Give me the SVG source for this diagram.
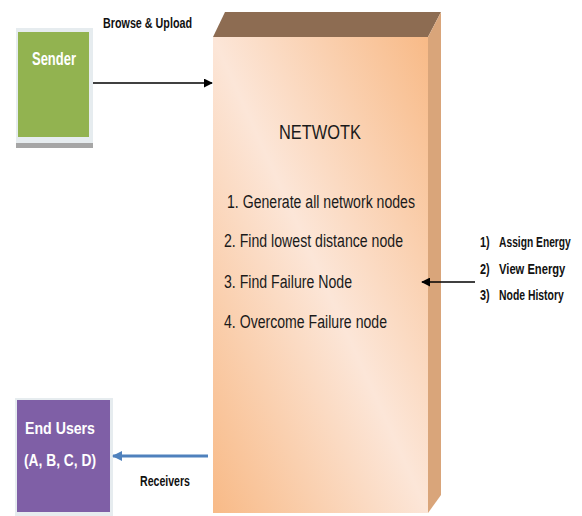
<svg xmlns="http://www.w3.org/2000/svg" width="582" height="516" viewBox="0 0 582 516">
<style>
.lbl{font-family:"Liberation Sans",Arial,sans-serif;font-weight:bold;font-size:14px;fill:#111}
.item{font-family:"Liberation Sans",Arial,sans-serif;font-size:18px;fill:#1a1a1a}
.wht{font-family:"Liberation Sans",Arial,sans-serif;font-weight:bold;fill:#fff}
</style>
<defs>
<linearGradient id="front" x1="1" y1="0" x2="0" y2="1">
<stop offset="0" stop-color="#F8BA87"/>
<stop offset="0.5" stop-color="#FCE6D8"/>
<stop offset="1" stop-color="#F8BA87"/>
</linearGradient>
<marker id="ahB" viewBox="0 0 10 10" refX="9" refY="5" markerWidth="9" markerHeight="9" markerUnits="userSpaceOnUse" orient="auto">
<path d="M0,0 L10,5 L0,10 z" fill="#000"/>
</marker>
<marker id="ahBl" viewBox="0 0 10 10" refX="9" refY="5" markerWidth="10" markerHeight="11" markerUnits="userSpaceOnUse" orient="auto">
<path d="M0,0 L10,5 L0,10 z" fill="#4F81BD"/>
</marker>
</defs>
<rect width="582" height="516" fill="#fff"/>
<g id="sender">
<rect x="16" y="28" width="77" height="120" fill="#A6A6A6"/>
<rect x="16" y="28" width="77" height="115" fill="#E6ECEF"/>
<rect x="18" y="32" width="71" height="105" fill="#92B350"/>
<text class="wht" x="54" y="65" font-size="18" text-anchor="middle" textLength="44" lengthAdjust="spacingAndGlyphs">Sender</text>
</g>
<g id="network">
<polygon points="213,37 225,12 441,12 428,37" fill="#8D6C52"/>
<polygon points="428,37 441,12 441,495 428,513" fill="#D9A57A"/>
<rect x="213" y="37" width="215" height="476" fill="url(#front)"/>
<text x="320" y="139" font-family="Liberation Sans,Arial,sans-serif" font-size="21" fill="#1a1a1a" text-anchor="middle" textLength="82" lengthAdjust="spacingAndGlyphs">NETWOTK</text>
<text class="item" x="227" y="208" textLength="188" lengthAdjust="spacingAndGlyphs">1.  Generate all network nodes</text>
<text class="item" x="224" y="247" textLength="179" lengthAdjust="spacingAndGlyphs">2.  Find lowest distance node</text>
<text class="item" x="224" y="288" textLength="128" lengthAdjust="spacingAndGlyphs">3.  Find Failure Node</text>
<text class="item" x="224" y="328" textLength="163" lengthAdjust="spacingAndGlyphs">4.  Overcome Failure node</text>
</g>
<g id="actions" transform="translate(480,0) scale(0.78,1)">
<text class="lbl" x="0" y="247"><tspan>1)</tspan><tspan x="24.4" textLength="92" lengthAdjust="spacingAndGlyphs">Assign Energy</tspan></text>
<text class="lbl" x="0" y="274"><tspan>2)</tspan><tspan x="24.4" textLength="85" lengthAdjust="spacingAndGlyphs">View  Energy</tspan></text>
<text class="lbl" x="0" y="300"><tspan>3)</tspan><tspan x="24.4" textLength="83" lengthAdjust="spacingAndGlyphs">Node History</tspan></text>
</g>
<g id="endusers">
<rect x="15" y="398" width="98" height="118" fill="#E6ECEF"/>
<rect x="17" y="400" width="93" height="112" fill="#7F5FA6"/>
<text class="wht" x="60" y="434" font-size="17" text-anchor="middle" textLength="70" lengthAdjust="spacingAndGlyphs">End Users</text>
<text class="wht" x="60" y="466" font-size="17" text-anchor="middle" textLength="72" lengthAdjust="spacingAndGlyphs">(A, B, C, D)</text>
</g>
<g id="connectors">
<line x1="93" y1="83" x2="212" y2="83" stroke="#000" stroke-width="1.5" marker-end="url(#ahB)"/>
<line x1="475" y1="282" x2="422" y2="282" stroke="#000" stroke-width="1.5" marker-end="url(#ahB)"/>
<line x1="208" y1="456" x2="113" y2="456" stroke="#4F81BD" stroke-width="3" marker-end="url(#ahBl)"/>
<text class="lbl" x="103" y="28" textLength="89" lengthAdjust="spacingAndGlyphs">Browse &amp; Upload</text>
<text class="lbl" x="140" y="486" textLength="50" lengthAdjust="spacingAndGlyphs">Receivers</text>
</g>
</svg>
